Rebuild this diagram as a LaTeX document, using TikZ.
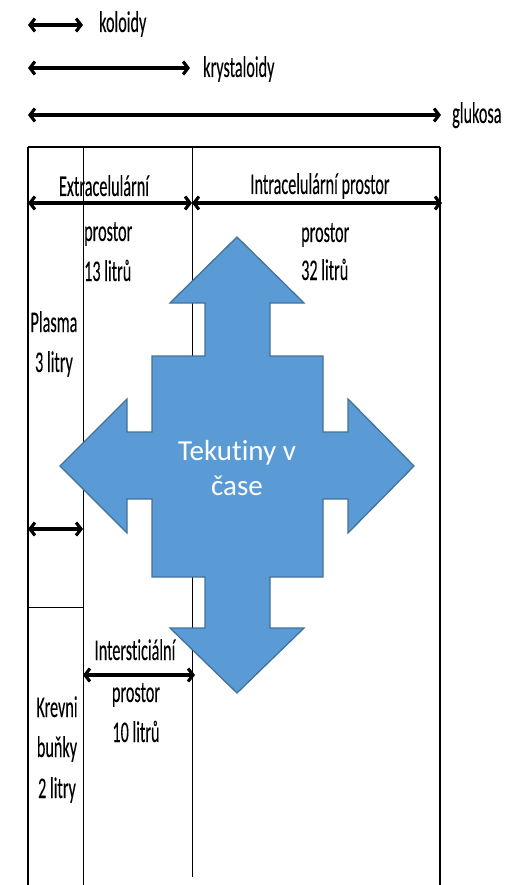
\documentclass[tikz,border=0pt]{standalone}
\usepackage{fontspec}
\setmainfont{Carlito}[Ligatures=NoCommon]
\newfontfamily\narrowfont{Carlito}[FakeStretch=0.54,FakeBold=0.15,Ligatures=NoCommon]
\usetikzlibrary{arrows.meta}
\definecolor{crossfill}{HTML}{5B9BD5}
\definecolor{crossline}{HTML}{41719C}
\begin{document}
\begin{tikzpicture}[x=1pt,y=-1pt,
  lbl/.style={font=\narrowfont\fontsize{30}{30}\selectfont, inner sep=0pt},
  dimarrow/.style={line width=3.1pt, {Straight Barb[length=5pt,width=13pt]}-{Straight Barb[length=5pt,width=13pt]}},
  frameline/.style={line width=2pt},
  thinline/.style={line width=0.9pt},
  crossshape/.style={fill=crossfill, draw=crossline, line width=1.3pt, line join=miter},
  crosstext/.style={font=\fontsize{29}{35}\selectfont, text=white, align=center, inner sep=0pt}]
\useasboundingbox (0,0) rectangle (525,885);

% frame
\coordinate (tl) at (28,147);
\coordinate (tr) at (440,147);
\coordinate (bl) at (28,885);
\coordinate (br) at (440,885);
\draw[frameline, line width=2.4pt] (tl) -- (tr);
\draw[frameline] (tl) -- (bl);
\draw[frameline] (tr) -- (br);
\coordinate (v1t) at (83,147);
\coordinate (v1b) at (83,885);
\coordinate (v2t) at (192,147);
\coordinate (v2b) at (192,877);
\draw[thinline] (v1t) -- (v1b);
\draw[thinline] (v2t) -- (v2b);
\coordinate (hl) at (28,607);
\coordinate (hr) at (83,607);
\draw[thinline] (hl) -- (hr);

% top arrows
\coordinate (k1) at (28,25);  \coordinate (k2) at (83,25);
\coordinate (c1) at (28,68);  \coordinate (c2) at (190,68);
\coordinate (g1) at (28,115); \coordinate (g2) at (441,115);
\draw[dimarrow] (k1) -- (k2);
\draw[dimarrow] (c1) -- (c2);
\draw[dimarrow] (g1) -- (g2);
\node[lbl, anchor=base west] (koloidy) at (99,32) {koloidy};
\node[lbl, anchor=base west] (krystaloidy) at (203,77) {krystaloidy};
\node[lbl, anchor=base west] (glukosa) at (452,123) {glukosa};

% section arrows
\coordinate (e1) at (28,203); \coordinate (e2) at (192,203);
\coordinate (i2) at (442,203);
\draw[dimarrow] (e1) -- (e2);
\draw[dimarrow] (e2) -- (i2);
\coordinate (p1) at (28,529); \coordinate (p2) at (83,529);
\draw[dimarrow] (p1) -- (p2);
\coordinate (s1) at (83,675); \coordinate (s2) at (195,675);
\draw[dimarrow] (s1) -- (s2);

% labels
\node[lbl, anchor=base] (extra) at (104,196) {Extracelulární};
\node[lbl, anchor=base west] (extra2) at (84,241) {prostor};
\node[lbl, anchor=base west] (extra3) at (84,281) {13 litrů};
\node[lbl, anchor=base] (intra) at (320,194) {Intracelulární prostor};
\node[lbl, anchor=base west] (intra2) at (301,242) {prostor};
\node[lbl, anchor=base west] (intra3) at (301,280) {32 litrů};
\node[lbl, anchor=base] (plasma) at (54,332) {Plasma};
\node[lbl, anchor=base] (plasma2) at (54,372) {3 litry};
\node[lbl, anchor=base] (inter) at (135,660) {Intersticiální};
\node[lbl, anchor=base] (inter2) at (136,702) {prostor};
\node[lbl, anchor=base] (inter3) at (136,742) {10 litrů};
\node[lbl, anchor=base] (krev) at (57,717) {Krevni};
\node[lbl, anchor=base] (krev2) at (57,757) {buňky};
\node[lbl, anchor=base] (krev3) at (57,798) {2 litry};

% cross arrow
\draw[crossshape] (237,237) -- (304,303) -- (270,303) -- (270,356) -- (323,356)
  -- (323,432) -- (348,432) -- (348,399) -- (414,466) -- (348,533) -- (348,499)
  -- (323,499) -- (323,577) -- (270,577) -- (270,628) -- (304,628) -- (237,693)
  -- (170,628) -- (205,628) -- (205,577) -- (152,577) -- (152,499) -- (127,499)
  -- (127,533) -- (60,466) -- (127,399) -- (127,432) -- (152,432) -- (152,356)
  -- (205,356) -- (205,303) -- (170,303) -- cycle;
\node[crosstext] (fluids) at (237,468) {Tekutiny v\\čase};
\end{tikzpicture}
\end{document}
